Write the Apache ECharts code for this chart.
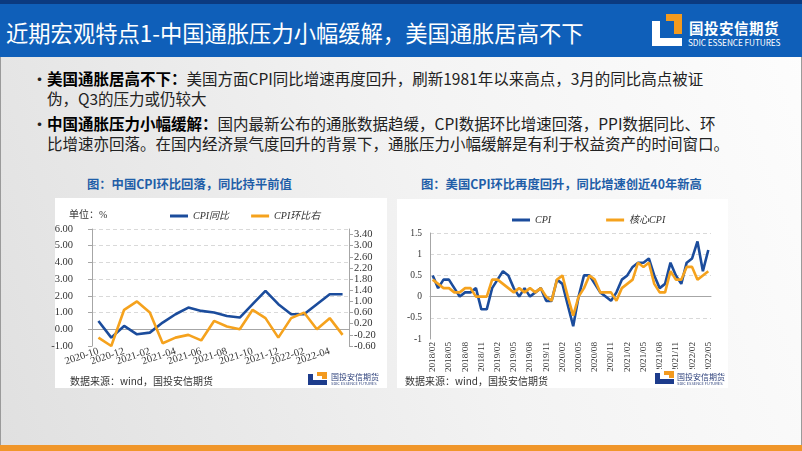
<!DOCTYPE html>
<html>
<head>
<meta charset="utf-8">
<script src="https://cdn.jsdelivr.net/npm/echarts@6/dist/echarts.min.js"></script>
<style>
body{margin:0;width:802px;height:451px;overflow:hidden;position:relative;font-family:"Noto Sans CJK SC",sans-serif;
  background:linear-gradient(250deg,#fdfdfd 0%,#f3f3f3 45%,#e0e0e0 100%);}
.abs{position:absolute;}
#topline{left:0;top:0;width:802px;height:4px;background:#0b3a80;}
#bar{left:0;top:4px;width:802px;height:53px;background:#0f5fb9;}
#title{left:6px;top:18px;color:#fff;font-size:22.3px;line-height:28px;white-space:nowrap;}
#foot{left:0;top:445px;width:802px;height:6px;background:#f0962a;}
.edge{top:57px;width:1px;height:388px;background:#9a9a9a;}
.bul{left:31px;font-size:15.5px;line-height:19.5px;color:#222;white-space:nowrap;}
.bul b{color:#000;}
.bul span.dot{position:absolute;left:0;font-size:17px;}
.bul div.t{margin-left:16px;}
.cap{color:#1f5ea8;font-weight:bold;font-size:12.3px;white-space:nowrap;}
.box{background:#fff;}
.src{font-size:10px;color:#333;white-space:nowrap;}
</style>
</head>
<body>
<div class="abs" id="topline"></div>
<div class="abs" id="bar"></div>
<div class="abs" id="title">近期宏观特点1-中国通胀压力小幅缓解，美国通胀居高不下</div>
<!-- big logo -->
<div class="abs" style="left:652px;top:14px;width:30px;height:32px;">
  <i style="position:absolute;left:0;top:7px;width:8px;height:25px;background:#fff;"></i>
  <i style="position:absolute;left:0;top:24px;width:30px;height:8px;background:#fff;"></i>
  <i style="position:absolute;left:14px;top:0;width:16px;height:7px;background:#f39a1e;"></i>
  <i style="position:absolute;left:22px;top:0;width:8px;height:20px;background:#f39a1e;"></i>
</div>
<div class="abs" style="left:689px;top:17px;color:#fff;font-size:14.5px;font-weight:bold;letter-spacing:0.5px;white-space:nowrap;">国投安信期货</div>
<div class="abs" style="left:688px;top:36px;color:#fff;font-size:8.3px;white-space:nowrap;letter-spacing:-0.1px;">SDIC ESSENCE FUTURES</div>
<div class="abs edge" style="left:0;"></div>
<div class="abs edge" style="left:801px;"></div>
<div class="abs" id="foot"></div>

<div class="abs bul" style="top:69px;"><span class="dot">•</span><div class="t"><b>美国通胀居高不下：</b>美国方面CPI同比增速再度回升，刷新1981年以来高点，3月的同比高点被证<br>伪，Q3的压力或仍较大</div></div>
<div class="abs bul" style="top:114px;"><span class="dot">•</span><div class="t"><b>中国通胀压力小幅缓解：</b>国内最新公布的通胀数据趋缓，CPI数据环比增速回落，PPI数据同比、环<br>比增速亦回落。在国内经济景气度回升的背景下，通胀压力小幅缓解是有利于权益资产的时间窗口。</div></div>

<div class="abs cap" style="left:87px;top:175px;">图：中国CPI环比回落，同比持平前值</div>
<div class="abs cap" style="left:421px;top:175px;">图：美国CPI环比再度回升，同比增速创近40年新高</div>

<div class="abs box" style="left:55px;top:198px;width:332px;height:190px;"></div>
<div class="abs box" style="left:397px;top:199px;width:331px;height:189px;"></div>
<div class="abs" id="cnChart" style="left:43px;top:198px;width:344px;height:190px;"></div>
<div class="abs" id="usChart" style="left:397px;top:199px;width:331px;height:189px;"></div>

<div class="abs src" style="left:70px;top:373px;">数据来源：wind，国投安信期货</div>
<div class="abs src" style="left:405px;top:373px;">数据来源：wind，国投安信期货</div>

<!-- small logos -->
<div class="abs" style="left:306px;top:370px;width:80px;height:17px;background:#fff;">
  <i style="position:absolute;left:2px;top:4px;width:5px;height:11px;background:#1d3c8c;"></i>
  <i style="position:absolute;left:2px;top:10px;width:19px;height:5px;background:#1d3c8c;"></i>
  <i style="position:absolute;left:11px;top:2px;width:10px;height:4px;background:#f39a1e;"></i>
  <i style="position:absolute;left:16px;top:2px;width:5px;height:7px;background:#f39a1e;"></i>
  <span style="position:absolute;left:25px;top:2px;font-size:8px;line-height:9px;color:#2b3f7a;white-space:nowrap;">国投安信期货</span>
  <span style="position:absolute;left:25px;top:11px;font-size:4px;line-height:4px;color:#2b3f7a;white-space:nowrap;">SDIC ESSENCE FUTURES</span>
</div>
<div class="abs" style="left:653px;top:369px;width:75px;height:18px;background:#fff;">
  <i style="position:absolute;left:2px;top:4px;width:5px;height:11px;background:#1d3c8c;"></i>
  <i style="position:absolute;left:2px;top:10px;width:19px;height:5px;background:#1d3c8c;"></i>
  <i style="position:absolute;left:11px;top:2px;width:10px;height:4px;background:#f39a1e;"></i>
  <i style="position:absolute;left:16px;top:2px;width:5px;height:7px;background:#f39a1e;"></i>
  <span style="position:absolute;left:24px;top:3px;font-size:8px;line-height:9px;color:#2b3f7a;white-space:nowrap;">国投安信期货</span>
  <span style="position:absolute;left:24px;top:12px;font-size:4px;line-height:4px;color:#2b3f7a;white-space:nowrap;">SDIC ESSENCE FUTURES</span>
</div>

<script>
// 中国CPI：同比（左轴）、环比（右轴）
var cnMonths = ['2020-10','2020-11','2020-12','2021-01','2021-02','2021-03','2021-04','2021-05','2021-06','2021-07',
	'2021-08','2021-09','2021-10','2021-11','2021-12','2022-01','2022-02','2022-03','2022-04','2022-05'];
var cnCpiYoy = [0.5,-0.5,0.2,-0.3,-0.2,0.4,0.9,1.3,1.1,1.0,0.8,0.7,1.5,2.3,1.5,0.9,0.9,1.5,2.1,2.1];
var cnCpiMom = [-0.3,-0.6,0.7,1.0,0.6,-0.5,-0.3,-0.2,-0.4,0.3,0.1,0.0,0.7,0.4,-0.3,0.4,0.6,0.0,0.4,-0.2];

// 美国CPI环比、核心CPI环比
var usMonths = ['2018/02','2018/03','2018/04','2018/05','2018/06','2018/07','2018/08','2018/09','2018/10','2018/11','2018/12',
	'2019/01','2019/02','2019/03','2019/04','2019/05','2019/06','2019/07','2019/08','2019/09','2019/10','2019/11','2019/12',
	'2020/01','2020/02','2020/03','2020/04','2020/05','2020/06','2020/07','2020/08','2020/09','2020/10','2020/11','2020/12',
	'2021/01','2021/02','2021/03','2021/04','2021/05','2021/06','2021/07','2021/08','2021/09','2021/10','2021/11','2021/12',
	'2022/01','2022/02','2022/03','2022/04','2022/05'];
var usCpi = [0.5,0.2,0.4,0.4,0.2,0.0,0.1,0.1,0.2,-0.3,-0.3,
	0.2,0.4,0.6,0.5,0.2,0.0,0.2,0.0,0.1,0.2,-0.1,-0.1,
	0.4,0.3,-0.2,-0.7,0.0,0.5,0.5,0.3,0.1,0.0,-0.1,0.1,
	0.4,0.5,0.7,0.8,0.8,0.9,0.5,0.2,0.3,0.8,0.5,0.3,
	0.8,0.9,1.3,0.6,1.1];
var usCoreCpi = [0.4,0.3,0.2,0.2,0.1,0.1,0.2,0.2,0.0,0.0,0.0,
	0.4,0.4,0.3,0.2,0.1,0.2,0.1,0.2,0.1,0.2,0.0,-0.1,
	0.4,0.5,0.0,-0.45,0.0,0.2,0.5,0.4,0.1,0.1,0.1,-0.1,
	0.2,0.3,0.4,0.8,0.7,0.8,0.3,0.1,0.1,0.6,0.4,0.4,
	0.7,0.7,0.4,0.5,0.6];

var BLUE = '#1b4c9c', ORANGE = '#f5a21d';
var SERIF = 'Liberation Serif, DejaVu Serif, Noto Sans CJK SC, serif';
var GRID_LINE = {show: true, lineStyle: {color: '#d9d9d9', type: [4, 3], width: 1}, showMinLine: false};

var cn = echarts.init(document.getElementById('cnChart'));
cn.setOption({
	animation: false,
	textStyle: {fontFamily: SERIF},
	title: {
		text: '单位：%', left: 21, top: 7,
		textStyle: {fontSize: 10, fontWeight: 'normal', color: '#333', fontFamily: SERIF}
	},
	legend: {
		left: 122, top: 8, icon: 'rect', itemWidth: 18, itemHeight: 3, itemGap: 22,
		textStyle: {fontSize: 10, fontStyle: 'italic', color: '#333', fontFamily: SERIF},
		data: ['CPI同比', 'CPI环比右']
	},
	grid: {left: 49, right: 38, top: 31, bottom: 42, outerBoundsMode: 'none'},
	xAxis: [{
		type: 'category', data: cnMonths, position: 'bottom',
		axisLine: {show: false, onZero: false}, axisTick: {show: false},
		// 每两个月显示一个标签（空串代替隐藏，避免首尾标签被自动隐藏）
		axisLabel: {interval: 0, rotate: 18, margin: 5, fontSize: 10.5, color: '#333', fontFamily: SERIF,
			formatter: function (v, i) { return i % 2 === 0 ? v : ''; }}
	}, {
		type: 'category', data: cnMonths, position: 'top',
		axisLine: {onZero: true, onZeroAxisIndex: 0, lineStyle: {color: '#a6a6a6', width: 1}},
		axisTick: {inside: true, interval: 1, length: 4, lineStyle: {color: '#a6a6a6'}},
		axisLabel: {show: false}
	}],
	yAxis: [{
		type: 'value', min: -1, max: 6, interval: 1, position: 'left',
		axisLine: {show: true, lineStyle: {color: '#a6a6a6'}},
		axisTick: {show: true, length: 4, lineStyle: {color: '#a6a6a6'}},
		axisLabel: {margin: 19, fontSize: 10.5, color: '#333', fontFamily: SERIF, formatter: function (v) { return v.toFixed(2); }},
		splitLine: GRID_LINE
	}, {
		type: 'value', min: -0.6, max: 3.6, interval: 0.4, position: 'right',
		axisLine: {show: true, lineStyle: {color: '#a6a6a6'}},
		axisTick: {show: true, length: 4, lineStyle: {color: '#a6a6a6'}},
		axisLabel: {margin: 5, fontSize: 10.5, color: '#333', fontFamily: SERIF, showMaxLabel: false,
			formatter: function (v) { return v.toFixed(2); }},
		splitLine: {show: false}
	}],
	series: [{
		name: 'CPI同比', type: 'line', data: cnCpiYoy, yAxisIndex: 0, symbol: 'none',
		lineStyle: {color: BLUE, width: 2.6}, itemStyle: {color: BLUE}
	}, {
		name: 'CPI环比右', type: 'line', data: cnCpiMom, yAxisIndex: 1, symbol: 'none',
		lineStyle: {color: ORANGE, width: 2.6}, itemStyle: {color: ORANGE}
	}]
});

var us = echarts.init(document.getElementById('usChart'));
us.setOption({
	animation: false,
	textStyle: {fontFamily: SERIF},
	legend: {
		left: 110, top: 11, icon: 'rect', itemWidth: 18, itemHeight: 3, itemGap: 55,
		textStyle: {fontSize: 10, fontStyle: 'italic', color: '#333', fontFamily: SERIF},
		data: ['CPI', '核心CPI']
	},
	grid: {left: 33, right: 17, top: 34, bottom: 49, outerBoundsMode: 'none'},
	xAxis: [{
		type: 'category', data: usMonths, position: 'bottom',
		axisLine: {show: false, onZero: false}, axisTick: {show: false},
		axisLabel: {interval: 2, rotate: 90, margin: 3, fontSize: 9.2, color: '#333', fontFamily: SERIF}
	}, {
		type: 'category', data: usMonths, position: 'top',
		axisLine: {onZero: true, lineStyle: {color: '#a6a6a6', width: 1}},
		axisTick: {inside: true, interval: 5, length: 3, lineStyle: {color: '#a6a6a6'}},
		axisLabel: {show: false}
	}],
	yAxis: {
		type: 'value', min: -1, max: 1.5, interval: 0.5,
		axisLine: {show: true, lineStyle: {color: '#a6a6a6'}},
		axisTick: {show: false},
		axisLabel: {margin: 8, fontSize: 9.5, color: '#333', fontFamily: SERIF},
		splitLine: GRID_LINE
	},
	series: [{
		name: 'CPI', type: 'line', data: usCpi, symbol: 'none',
		lineStyle: {color: BLUE, width: 2.6}, itemStyle: {color: BLUE}
	}, {
		name: '核心CPI', type: 'line', data: usCoreCpi, symbol: 'none',
		lineStyle: {color: ORANGE, width: 2.6}, itemStyle: {color: ORANGE}
	}]
});
</script>
</body>
</html>
